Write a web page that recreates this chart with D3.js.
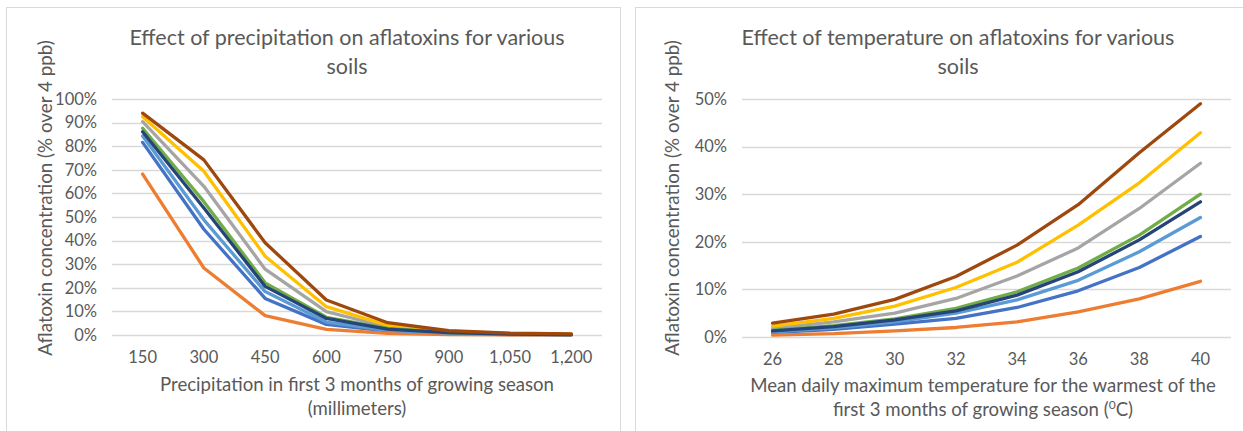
<!DOCTYPE html>
<html>
<head>
<meta charset="utf-8">
<script src="https://cdn.jsdelivr.net/npm/d3@7"></script>
<style>
  html, body { margin: 0; padding: 0; background: #ffffff; }
  svg { display: block; }
  text { font-family: Lato, "Open Sans", sans-serif; fill: #595959; }
</style>
</head>
<body>
<svg id="chart" width="1243" height="431"></svg>
<script>
// Soil series, in drawing order (later series sit on top)
const seriesNames = ["Soil 1", "Soil 2", "Soil 3", "Soil 4", "Soil 5", "Soil 6", "Soil 7", "Soil 8"];
const seriesColors = ["#4472C4", "#ED7D31", "#A5A5A5", "#FFC000", "#5B9BD5", "#70AD47", "#264478", "#9E480E"];

// Precipitation chart: categories (mm) and share of samples over 4 ppb (%)
const precipCategories = ["150", "300", "450", "600", "750", "900", "1,050", "1,200"];
const precipSoil1 = [81.6, 44.8, 15.5, 4.5, 1.7, 0.6, 0.2, 0.1];
const precipSoil2 = [68.2, 28.4, 8.2, 2.4, 0.7, 0.2, 0.1, 0.05];
const precipSoil3 = [90.4, 63.0, 27.9, 9.9, 3.4, 1.3, 0.5, 0.3];
const precipSoil4 = [92.5, 69.4, 33.4, 12.0, 4.1, 1.6, 0.6, 0.4];
const precipSoil5 = [84.3, 48.8, 18.4, 5.5, 2.0, 0.8, 0.3, 0.15];
const precipSoil6 = [87.6, 56.5, 22.1, 7.5, 2.8, 1.0, 0.4, 0.2];
const precipSoil7 = [86.1, 53.8, 20.6, 7.0, 2.5, 1.0, 0.4, 0.2];
const precipSoil8 = [94.0, 74.2, 39.1, 14.8, 5.2, 1.8, 0.8, 0.5];
const precipTicks = [0, 10, 20, 30, 40, 50, 60, 70, 80, 90, 100];

// Temperature chart: categories (°C) and share of samples over 4 ppb (%)
const tempCategories = ["26", "28", "30", "32", "34", "36", "38", "40"];
const tempSoil1 = [0.9, 1.6, 2.7, 3.9, 6.2, 9.7, 14.6, 21.1];
const tempSoil2 = [0.4, 0.7, 1.3, 2.0, 3.2, 5.3, 8.0, 11.7];
const tempSoil3 = [1.8, 3.2, 5.0, 8.1, 12.8, 18.7, 27.0, 36.5];
const tempSoil4 = [2.3, 3.9, 6.5, 10.4, 15.7, 23.5, 32.4, 42.9];
const tempSoil5 = [1.1, 1.9, 3.2, 5.0, 7.8, 11.9, 17.9, 25.1];
const tempSoil6 = [1.4, 2.4, 3.8, 6.0, 9.5, 14.5, 21.4, 30.0];
const tempSoil7 = [1.3, 2.2, 3.6, 5.5, 8.8, 13.7, 20.4, 28.4];
const tempSoil8 = [2.9, 4.8, 7.9, 12.7, 19.3, 27.8, 38.7, 49.0];
const tempTicks = [0, 10, 20, 30, 40, 50];

const svg = d3.select("#chart");

function drawChart(opts) {
  const g = svg.append("g");

  // chart frame
  g.append("rect")
    .attr("x", opts.frame[0] + 0.5).attr("y", opts.frame[1] + 0.5)
    .attr("width", opts.frame[2]).attr("height", opts.frame[3])
    .attr("fill", "#ffffff").attr("stroke", "#D9D9D9").attr("stroke-width", 1);

  const x = d3.scaleBand().domain(opts.categories).range([opts.plot.left, opts.plot.right]);
  const y = d3.scaleLinear().domain([0, d3.max(opts.ticks)]).range([opts.plot.bottom, opts.plot.top]);

  // horizontal gridlines
  g.append("g").selectAll("line").data(opts.ticks).join("line")
    .attr("x1", opts.plot.left).attr("x2", opts.plot.right)
    .attr("y1", d => Math.round(y(d)) + 0.5).attr("y2", d => Math.round(y(d)) + 0.5)
    .attr("stroke", "#D9D9D9").attr("stroke-width", 1.3);

  // value axis labels
  const yAxis = d3.axisLeft(y).tickValues(opts.ticks).tickFormat(d => d + "%").tickSize(0).tickPadding(15);
  const ya = g.append("g").attr("transform", `translate(${opts.plot.left},0)`).call(yAxis);
  ya.select(".domain").remove();
  ya.selectAll("text").style("font-size", "16.5px").attr("fill", "#595959");

  // category axis labels
  const xAxis = d3.axisBottom(x).tickSize(0).tickPadding(16);
  const xa = g.append("g").attr("transform", `translate(0,${opts.plot.bottom})`).call(xAxis);
  xa.select(".domain").remove();
  xa.selectAll("text").style("font-size", "16.5px").attr("fill", "#595959");

  // series lines
  const line = d3.line()
    .x((d, i) => x(opts.categories[i]) + x.bandwidth() / 2)
    .y(d => y(d));
  g.append("g").selectAll("path").data(opts.series).join("path")
    .attr("d", d => line(d))
    .attr("fill", "none")
    .attr("stroke", (d, i) => seriesColors[i])
    .attr("stroke-width", 3.3)
    .attr("stroke-linejoin", "round")
    .attr("stroke-linecap", "round");

  // chart title
  const title = g.append("text").attr("text-anchor", "middle").style("font-size", "21.5px");
  opts.title.forEach((t, i) => {
    title.append("tspan").attr("x", opts.titleX).attr("y", 44.5 + i * 29).text(t);
  });

  // value axis title
  g.append("text")
    .attr("transform", `translate(${opts.yTitleX},198) rotate(-90)`)
    .attr("text-anchor", "middle").attr("dy", "0.35em")
    .style("font-size", "18.8px")
    .text("Aflatoxin concentration (% over 4 ppb)");

  // category axis title
  const xt = g.append("text").attr("text-anchor", "middle").style("font-size", "18.6px");
  opts.xTitle.forEach((parts, i) => {
    const ts = xt.append("tspan").attr("x", opts.xTitleX).attr("y", opts.xTitleY + i * 24);
    parts.forEach(p => {
      const s = ts.append("tspan").text(p.text);
      if (p.sup) s.attr("baseline-shift", "super").style("font-size", "12px");
    });
  });
}

drawChart({
  frame: [6, 7, 614, 440],
  plot: { left: 112, right: 602, top: 99, bottom: 335 },
  categories: precipCategories,
  ticks: precipTicks,
  series: [precipSoil1, precipSoil2, precipSoil3, precipSoil4, precipSoil5, precipSoil6, precipSoil7, precipSoil8],
  title: ["Effect of precipitation on aflatoxins for various", "soils"],
  titleX: 347,
  yTitleX: 45,
  xTitle: [[{ text: "Precipitation in first 3 months of growing season" }], [{ text: "(millimeters)" }]],
  xTitleX: 357,
  xTitleY: 391
});

drawChart({
  frame: [635, 7, 620, 440],
  plot: { left: 742, right: 1231, top: 99, bottom: 337 },
  categories: tempCategories,
  ticks: tempTicks,
  series: [tempSoil1, tempSoil2, tempSoil3, tempSoil4, tempSoil5, tempSoil6, tempSoil7, tempSoil8],
  title: ["Effect of temperature on aflatoxins for various", "soils"],
  titleX: 958,
  yTitleX: 672,
  xTitle: [[{ text: "Mean daily maximum temperature for the warmest of the" }],
           [{ text: "first 3 months of growing season (" }, { text: "0", sup: true }, { text: "C)" }]],
  xTitleX: 983,
  xTitleY: 392
});
</script>
</body>
</html>
